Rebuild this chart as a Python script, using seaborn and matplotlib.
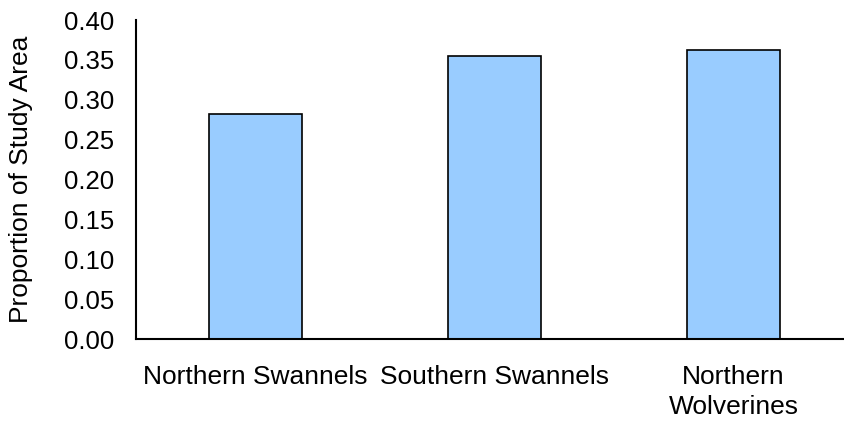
import matplotlib
matplotlib.use('Agg')
import matplotlib.pyplot as plt
import seaborn as sns
import pandas as pd

# data
groups = ['Northern Swannels', 'Southern Swannels', 'Northern\nWolverines']
proportions = [0.282, 0.355, 0.362]
y_ticks = [0.00, 0.05, 0.10, 0.15, 0.20, 0.25, 0.30, 0.35, 0.40]

sns.set_style('white')
plt.rcParams['font.family'] = ['Liberation Sans', 'DejaVu Sans']
plt.rcParams['text.color'] = 'black'
plt.rcParams['xtick.color'] = 'black'
plt.rcParams['ytick.color'] = 'black'
plt.rcParams['axes.labelcolor'] = 'black'

df = pd.DataFrame({'Group': groups, 'Proportion': proportions})

fig = plt.figure(figsize=(8.44, 4.23), dpi=100)
# axis runs past the right edge, like the original screenshot
ax = fig.add_axes([136 / 844, 84 / 423, 717 / 844, 319 / 423])

sns.barplot(x='Group', y='Proportion', data=df, color='#99CCFF',
            saturation=1, edgecolor='black', linewidth=1.2, width=0.385, ax=ax)

ax.set_xlim(-0.5, 2.5)
ax.set_ylim(0, 0.40)
ax.set_yticks(y_ticks)
ax.set_yticklabels([f'{t:.2f}' for t in y_ticks])

# category labels centred, tick marks between categories (Excel style)
ax.set_xticks(range(len(groups)))
ax.set_xticks([-0.5, 0.5, 1.5, 2.5], minor=True)
ax.tick_params(axis='x', which='major', length=0, pad=19, labelsize=19)
ax.tick_params(axis='x', which='minor', length=6, width=1.5, direction='out')
ax.tick_params(axis='y', length=6, width=1.5, direction='out', pad=10, labelsize=18.5)
for lab in ax.get_xticklabels():
    lab.set_linespacing(1.3)

ax.set_xlabel('')
ax.set_ylabel('Proportion of Study Area', fontsize=19)
ax.yaxis.set_label_coords(-103 / 717, 0.5)

for side in ['top', 'right']:
    ax.spines[side].set_visible(False)
for side in ['left', 'bottom']:
    ax.spines[side].set_linewidth(1.5)
    ax.spines[side].set_color('black')

fig.savefig('out.png', dpi=100)
